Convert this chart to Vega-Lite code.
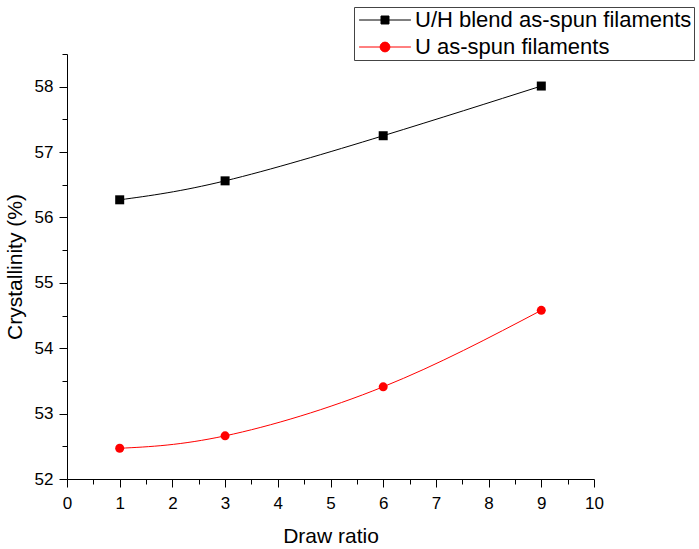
{
  "$schema": "https://vega.github.io/schema/vega-lite/v6.json",
  "autosize": {"type": "none"},
  "padding": {"left": 67, "top": 54, "right": 105, "bottom": 70},
  "width": 527,
  "height": 425,
  "background": "white",
  "config": {
    "view": {"stroke": null},
    "font": "Liberation Sans",
    "axis": {"grid": false, "domainColor": "#000000", "tickColor": "#000000", "labelColor": "#000000", "titleColor": "#000000", "labelFont": "Liberation Sans", "titleFont": "Liberation Sans", "titleFontWeight": "normal", "labelFontSize": 17, "titleFontSize": 21, "domainWidth": 1, "tickWidth": 1}
  },
  "data": {"values": [
    {"series": "U/H blend as-spun filaments", "ratio": 1, "cryst": 56.27},
    {"series": "U/H blend as-spun filaments", "ratio": 3, "cryst": 56.56},
    {"series": "U/H blend as-spun filaments", "ratio": 6, "cryst": 57.25},
    {"series": "U/H blend as-spun filaments", "ratio": 9, "cryst": 58.01},
    {"series": "U as-spun filaments", "ratio": 1, "cryst": 52.47},
    {"series": "U as-spun filaments", "ratio": 3, "cryst": 52.66},
    {"series": "U as-spun filaments", "ratio": 6, "cryst": 53.41},
    {"series": "U as-spun filaments", "ratio": 9, "cryst": 54.58}
  ]},
  "resolve": {"axis": {"x": "independent", "y": "independent"}},
  "layer": [
    {
      "mark": {"type": "line", "interpolate": "natural", "strokeWidth": 1},
      "encoding": {
        "x": {"field": "ratio", "type": "quantitative", "scale": {"domain": [0, 10], "nice": false, "zero": false},
              "axis": {"orient": "bottom", "values": [0,1,2,3,4,5,6,7,8,9,10], "title": "Draw ratio", "tickSize": 8, "labelPadding": 8, "titlePadding": 14, "labelFlush": false}},
        "y": {"field": "cryst", "type": "quantitative", "scale": {"domain": [52, 58.5], "nice": false, "zero": false},
              "axis": {"orient": "left", "values": [52,53,54,55,56,57,58], "title": "Crystallinity (%)", "tickSize": 8, "labelPadding": 6, "titlePadding": 9, "labelFlush": false}},
        "color": {"field": "series", "type": "nominal",
                  "scale": {"domain": ["U/H blend as-spun filaments", "U as-spun filaments"], "range": ["#000000", "#ff0000"]},
                  "legend": {
                    "orient": "none", "legendX": 287, "legendY": -47, "title": null,
                    "strokeColor": "#444444", "padding": 2, "fillColor": "white",
                    "labelFont": "Liberation Sans", "labelFontSize": 22, "labelColor": "#000000",
                    "symbolSize": 196, "symbolOffset": 18, "labelOffset": 19, "rowPadding": 5,
                    "symbolStrokeWidth": 1, "labelLimit": 400,
                    "encode": {"symbols": {"update": {
                      "shape": {"signal": "datum.value == 'U as-spun filaments' ? 'M-3.7,0L3.7,0M-0.7,0A0.7,0.7,0,1,0,0.7,0A0.7,0.7,0,1,0,-0.7,0Z' : 'M-3.7,0L3.7,0M-0.57,-0.57L0.57,-0.57L0.57,0.57L-0.57,0.57Z'"},
                      "fill": {"signal": "datum.value == 'U as-spun filaments' ? '#ff0000' : '#000000'"},
                      "stroke": {"signal": "datum.value == 'U as-spun filaments' ? '#ff0000' : '#000000'"},
                      "strokeWidth": {"value": 1},
                      "opacity": {"value": 1}
                    }}}
                  }}
      }
    },
    {
      "mark": {"type": "point", "filled": true, "opacity": 1, "size": 81},
      "encoding": {
        "x": {"field": "ratio", "type": "quantitative",
              "axis": {"orient": "bottom", "values": [0.5,1.5,2.5,3.5,4.5,5.5,6.5,7.5,8.5,9.5], "labels": false, "domain": false, "title": null, "tickSize": 5}},
        "y": {"field": "cryst", "type": "quantitative",
              "axis": {"orient": "left", "values": [52.5,53.5,54.5,55.5,56.5,57.5,58.5], "labels": false, "domain": false, "title": null, "tickSize": 5}},
        "color": {"field": "series", "type": "nominal"},
        "shape": {"condition": {"test": "datum.series == 'U as-spun filaments'", "value": "circle"}, "value": "square"}
      }
    }
  ]
}
